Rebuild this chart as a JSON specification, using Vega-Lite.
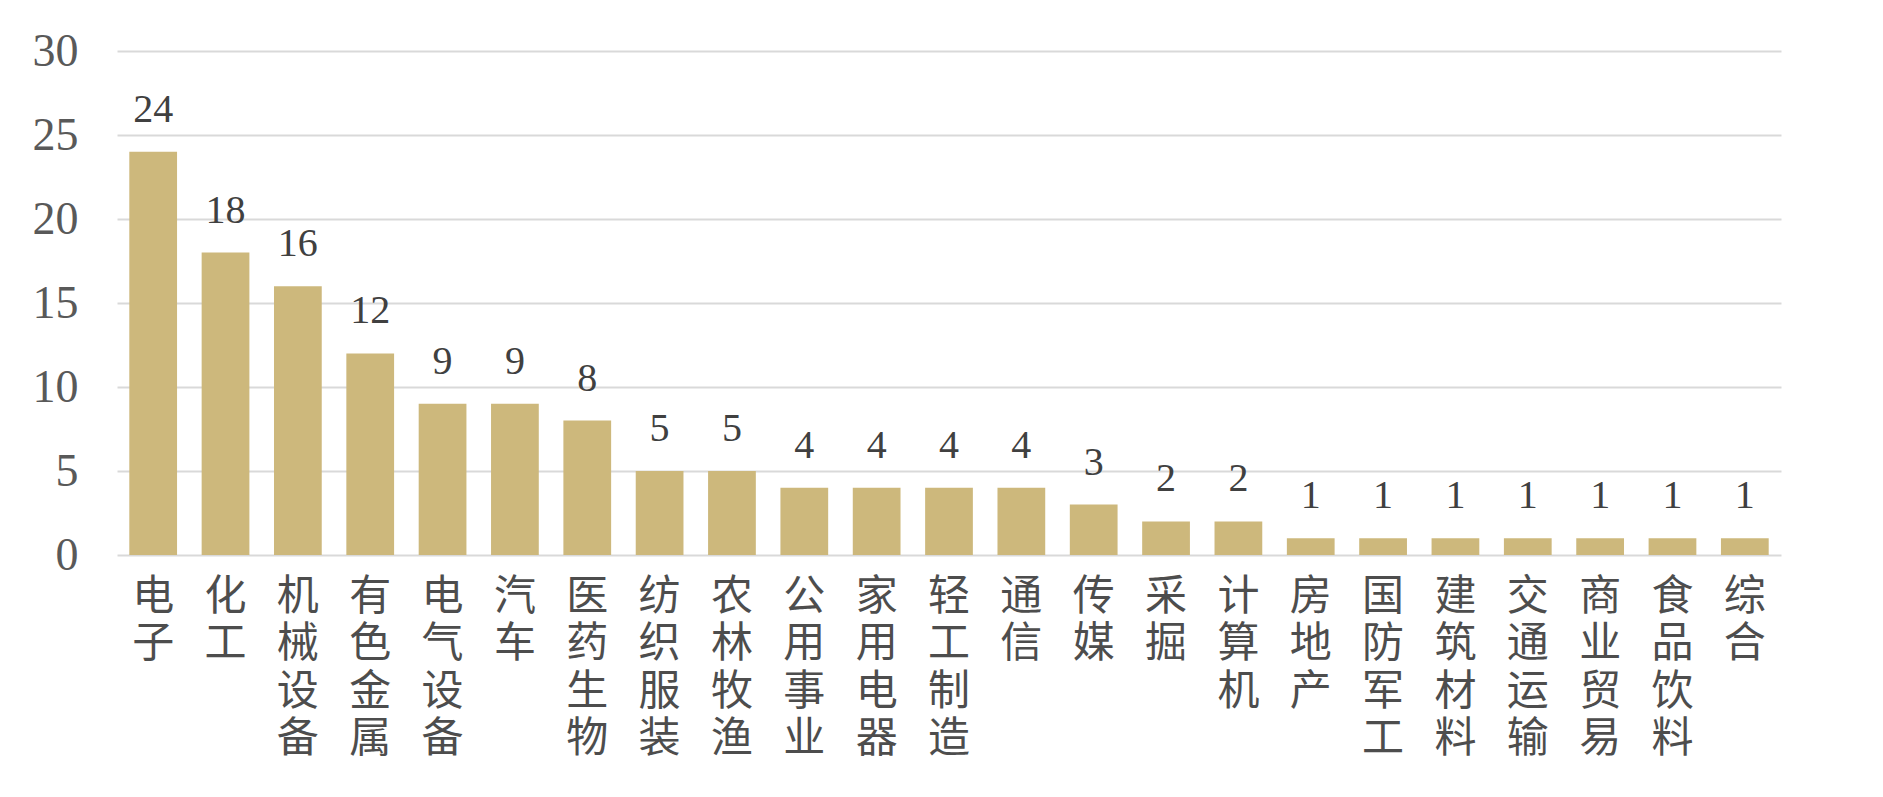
{
  "$schema": "https://vega.github.io/schema/vega-lite/v6.json",
  "width": 1664,
  "height": 504,
  "autosize": {"type": "none"},
  "padding": {"left": 117, "top": 51, "right": 102, "bottom": 242},
  "background": "white",
  "config": {"view": {"stroke": null}},
  "data": {
    "values": [
      {"industry": "电子", "count": 24},
      {"industry": "化工", "count": 18},
      {"industry": "机械设备", "count": 16},
      {"industry": "有色金属", "count": 12},
      {"industry": "电气设备", "count": 9},
      {"industry": "汽车", "count": 9},
      {"industry": "医药生物", "count": 8},
      {"industry": "纺织服装", "count": 5},
      {"industry": "农林牧渔", "count": 5},
      {"industry": "公用事业", "count": 4},
      {"industry": "家用电器", "count": 4},
      {"industry": "轻工制造", "count": 4},
      {"industry": "通信", "count": 4},
      {"industry": "传媒", "count": 3},
      {"industry": "采掘", "count": 2},
      {"industry": "计算机", "count": 2},
      {"industry": "房地产", "count": 1},
      {"industry": "国防军工", "count": 1},
      {"industry": "建筑材料", "count": 1},
      {"industry": "交通运输", "count": 1},
      {"industry": "商业贸易", "count": 1},
      {"industry": "食品饮料", "count": 1},
      {"industry": "综合", "count": 1}
    ]
  },
  "encoding": {
    "x": {
      "field": "industry",
      "type": "nominal",
      "sort": null,
      "title": null,
      "scale": {"paddingInner": 0.34, "paddingOuter": 0.17},
      "axis": {
        "labelAngle": 0,
        "labelExpr": "split(datum.label, '')",
        "labelFont": "Noto Sans CJK SC",
        "labelFontSize": 42,
        "labelLineHeight": 47.5,
        "labelColor": "#4d4d4d",
        "labelBaseline": "top",
        "labelPadding": 21,
        "domain": false,
        "ticks": false
      }
    },
    "y": {
      "field": "count",
      "type": "quantitative",
      "title": null,
      "scale": {"domain": [0, 30]},
      "axis": {
        "values": [0, 5, 10, 15, 20, 25, 30],
        "labelFont": "Liberation Serif",
        "labelFontSize": 46,
        "labelColor": "#595959",
        "labelPadding": 39,
        "domain": false,
        "ticks": false,
        "gridColor": "#d9d9d9",
        "gridWidth": 2
      }
    }
  },
  "layer": [
    {"mark": {"type": "bar", "color": "#cdb87c"}},
    {
      "mark": {
        "type": "text",
        "font": "Liberation Serif",
        "fontSize": 40,
        "color": "#404040",
        "baseline": "alphabetic",
        "dy": -30
      },
      "encoding": {"text": {"field": "count", "type": "quantitative"}}
    }
  ]
}
